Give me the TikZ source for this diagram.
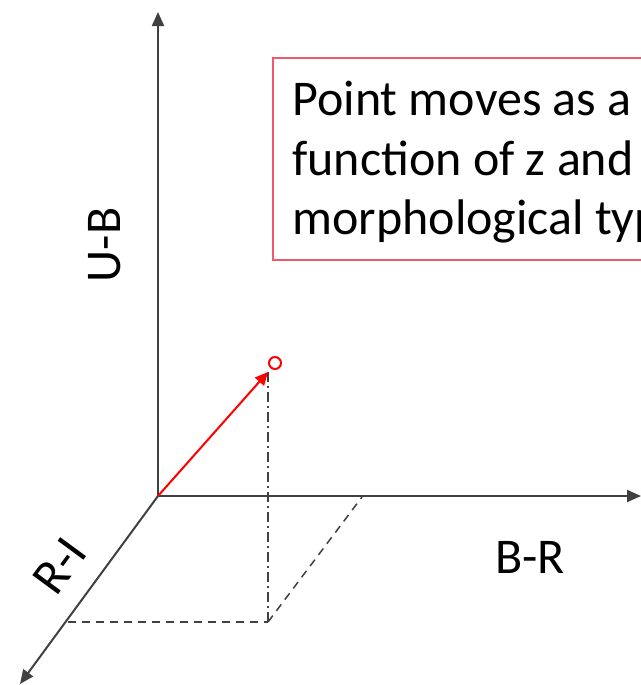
\documentclass[tikz,border=0pt]{standalone}
\usepackage{fontspec}
\setmainfont{Carlito}
\usetikzlibrary{arrows.meta}
\definecolor{axisgray}{HTML}{404040}
\definecolor{boxred}{HTML}{F05A6A}
\begin{document}
\begin{tikzpicture}[x=0.5pt,y=-0.5pt,
  axis/.style={draw=axisgray,line width=1pt,-{Triangle[length=7pt,width=6pt]}},
  lbl/.style={font=\fontsize{25}{30}\selectfont,inner sep=0pt},
  proj/.style={draw=axisgray,line width=0.75pt}]
\useasboundingbox (0,0) rectangle (641,685);
\clip (0,0) rectangle (641,685);
\coordinate (O) at (158,496);
\coordinate (top) at (158,12);
\coordinate (right) at (641,496);
\coordinate (ri) at (20,684);
\coordinate (P) at (268,372);
\coordinate (foot) at (268,622);
\coordinate (left) at (68,622);
\coordinate (xb) at (362,497);
% axes
\draw[axis] (O) -- (top);
\draw[axis] (O) -- (right);
\draw[axis] (O) -- (ri);
% labels
\node[lbl,rotate=90] (ub) at (105,245) {U-B};
\node[lbl] (br) at (530,557) {B-R};
\node[lbl,rotate=53.7,fill=white,inner sep=3pt] (rilab) at (60,566) {R-I};
% projections
\draw[proj,dash pattern=on 5pt off 2pt on 1pt off 2pt] (P) -- (foot);
\draw[proj,dash pattern=on 4pt off 3pt] (left) -- (foot);
\draw[proj,dash pattern=on 4pt off 3pt] (foot) -- (xb);
% red vector
\draw[red,line width=1pt,-{Triangle[length=6.5pt,width=6pt]}] (O) -- (P);
\node[circle,draw=red,line width=1pt,fill=white,minimum size=6pt,inner sep=0pt] (pt) at (275,363) {};
% text box
\draw[boxred,line width=1pt] (273,58) rectangle (720,260);
\node[lbl,anchor=base west] (l1) at (292,115) {Point moves as a};
\node[lbl,anchor=base west] (l2) at (292,175) {function of z and};
\node[lbl,anchor=base west] (l3) at (292,234) {morphological type};
\end{tikzpicture}
\end{document}
